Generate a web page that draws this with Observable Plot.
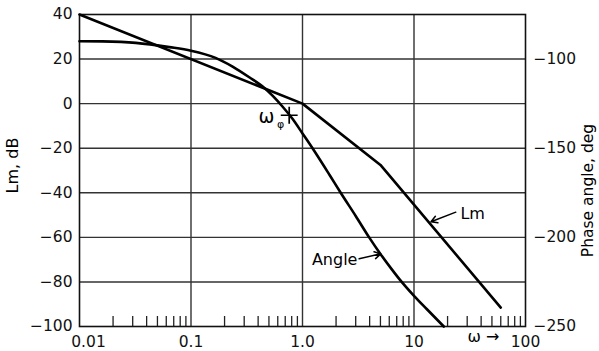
<!DOCTYPE html>
<html>
<head>
<meta charset="utf-8">
<script src="https://cdn.jsdelivr.net/npm/d3@7"></script>
<script src="https://cdn.jsdelivr.net/npm/@observablehq/plot@0.6"></script>
<style>
  html, body { margin: 0; padding: 0; background: #fff; }
  #chart svg { display: block; }
</style>
</head>
<body>
<div id="chart"></div>
<script>
// Log-magnitude asymptote (omega, dB)
const lmOmega = [0.01, 1, 5, 60];
const lmDb = [40, 0, -27.5, -91.5];

// Phase angle curve (omega, degrees)
const angleOmega = [0.01, 0.016, 0.032, 0.064, 0.1, 0.166, 0.236, 0.333, 0.453, 0.661, 0.813, 1.0, 1.23, 1.75, 2.2, 3.0, 3.96, 5.0, 6.3, 7.46, 10, 13, 18.5];
const angleDeg   = [-90.0, -90.1, -90.9, -93.3, -95.3, -99.3, -104.2, -110.2, -116.1, -126.6, -133.5, -141.7, -150, -165, -175, -188, -200, -209.3, -217.8, -223.7, -232.8, -240.2, -250];

// Axis ticks
const lmTicks = [40, 20, 0, -20, -40, -60, -80, -100];
const lmGrid = [20, 0, -20, -40, -60, -80];
const phaseTicks = [-100, -150, -200, -250];
const omegaTicks = [0.01, 0.1, 1, 10, 100];
const omegaTickLabels = ["0.01", "0.1", "1.0", "10", "100"];
const omegaGrid = [0.1, 1, 10];
const minorTicks = [0.01, 0.1, 1, 10].flatMap(d => [2,3,4,5,6,7,8,9].map(k => +(d * k).toPrecision(3)));

// Phase (deg) to Lm (dB) mapping of the two axes: -100 deg <-> 20 dB, -150 deg <-> -20 dB
const degToDb = p => (p + 125) / 1.25;
const dbToDeg = d => -125 + 1.25 * d;

// Annotations (data coordinates)
const omegaPhiPoint = {omega: 0.76, db: -5.2};
const omegaPhiLabel = {omega: 0.561, db: -5.8};
const omegaPhiSub = {omega: 0.59, db: -9.3};
const lmLabel = {omega: 26.1, db: -49.5, text: "Lm"};
const lmArrow = {x1: 23.7, y1: -48.7, x2: 14.2, y2: -53.0};
const angleLabel = {omega: 3.11, db: -69.9, text: "Angle"};
const angleArrow = {x1: 3.22, y1: -69.6, x2: 5.03, y2: -67.4};
const omegaAxisLabel = {omega: 42, text: "ω →"};

const lmData = lmOmega.map((w, i) => ({w, v: lmDb[i]}));
const angleData = angleOmega.map((w, i) => ({w, v: degToDb(angleDeg[i])}));

const fmt = d => d < 0 ? "\u2212" + Math.abs(d) : String(d);
const FONT = "DejaVu Sans, Liberation Sans, Arial, sans-serif";

const chart = Plot.plot({
  width: 599,
  height: 351,
  marginLeft: 79,
  marginRight: 74,
  marginTop: 14,
  marginBottom: 25,
  style: {fontFamily: FONT, fontSize: "15.5px", color: "#111", background: "#fff"},
  x: {type: "log", domain: [0.01, 100]},
  y: {domain: [-100, 40]},
  marks: [
    Plot.gridY(lmGrid, {stroke: "#333", strokeOpacity: 1, strokeWidth: 1.4}),
    Plot.gridX(omegaGrid, {stroke: "#333", strokeOpacity: 1, strokeWidth: 1.4}),
    Plot.axisY(lmTicks, {anchor: "left", tickSize: 0, tickPadding: 7, tickFormat: fmt, label: null, fontSize: 15.5}),
    Plot.axisY(phaseTicks.map(degToDb), {anchor: "right", tickSize: 0, tickPadding: 8, tickFormat: d => fmt(dbToDeg(d)), label: null, fontSize: 15.5}),
    Plot.axisX(omegaTicks.slice(0, 1), {anchor: "bottom", tickSize: 0, tickPadding: 9, tickFormat: () => omegaTickLabels[0], label: null, dx: 9, fontSize: 15.5}),
    Plot.axisX(omegaTicks.slice(1), {anchor: "bottom", tickSize: 0, tickPadding: 9, tickFormat: d => omegaTickLabels[omegaTicks.indexOf(d)], label: null, fontSize: 15.5}),
    Plot.axisX(minorTicks, {anchor: "bottom", tickSize: -10, tickPadding: 0, tickFormat: () => "", label: null, stroke: "#222", strokeWidth: 1.3}),
    Plot.frame({stroke: "#111", strokeWidth: 1.6}),
    Plot.line(lmData, {x: "w", y: "v", stroke: "#000", strokeWidth: 2.6}),
    Plot.line(angleData, {x: "w", y: "v", stroke: "#000", strokeWidth: 2.6, curve: "monotone-x"}),
    Plot.dot([omegaPhiPoint], {x: "omega", y: "db", symbol: "plus", r: 5.5, stroke: "#000", strokeWidth: 1.7}),
    Plot.text([omegaPhiLabel], {x: "omega", y: "db", text: () => "ω", textAnchor: "end", fontSize: 19, fill: "#000"}),
    Plot.text([omegaPhiSub], {x: "omega", y: "db", text: () => "φ", textAnchor: "start", fontSize: 11, fill: "#000"}),
    Plot.text([lmLabel], {x: "omega", y: "db", text: "text", textAnchor: "start", fontSize: 16, fill: "#000"}),
    Plot.arrow([lmArrow], {x1: "x1", y1: "y1", x2: "x2", y2: "y2", stroke: "#000", strokeWidth: 1.5, headLength: 7}),
    Plot.text([angleLabel], {x: "omega", y: "db", text: "text", textAnchor: "end", fontSize: 16, fill: "#000"}),
    Plot.arrow([angleArrow], {x1: "x1", y1: "y1", x2: "x2", y2: "y2", stroke: "#000", strokeWidth: 1.5, headLength: 7}),
    Plot.text([omegaAxisLabel], {x: "omega", frameAnchor: "bottom", dy: 15, text: "text", fontSize: 16, fill: "#000"}),
    Plot.text(["Lm, dB"], {frameAnchor: "left", dx: -67, dy: -5, rotate: -90, textAnchor: "middle", text: d => d, fontSize: 16, fill: "#000"}),
    Plot.text(["Phase angle, deg"], {frameAnchor: "right", dx: 63, dy: 20, rotate: -90, textAnchor: "middle", text: d => d, fontSize: 15.5, fill: "#000"})
  ]
});
document.getElementById("chart").appendChild(chart);
</script>
</body>
</html>
